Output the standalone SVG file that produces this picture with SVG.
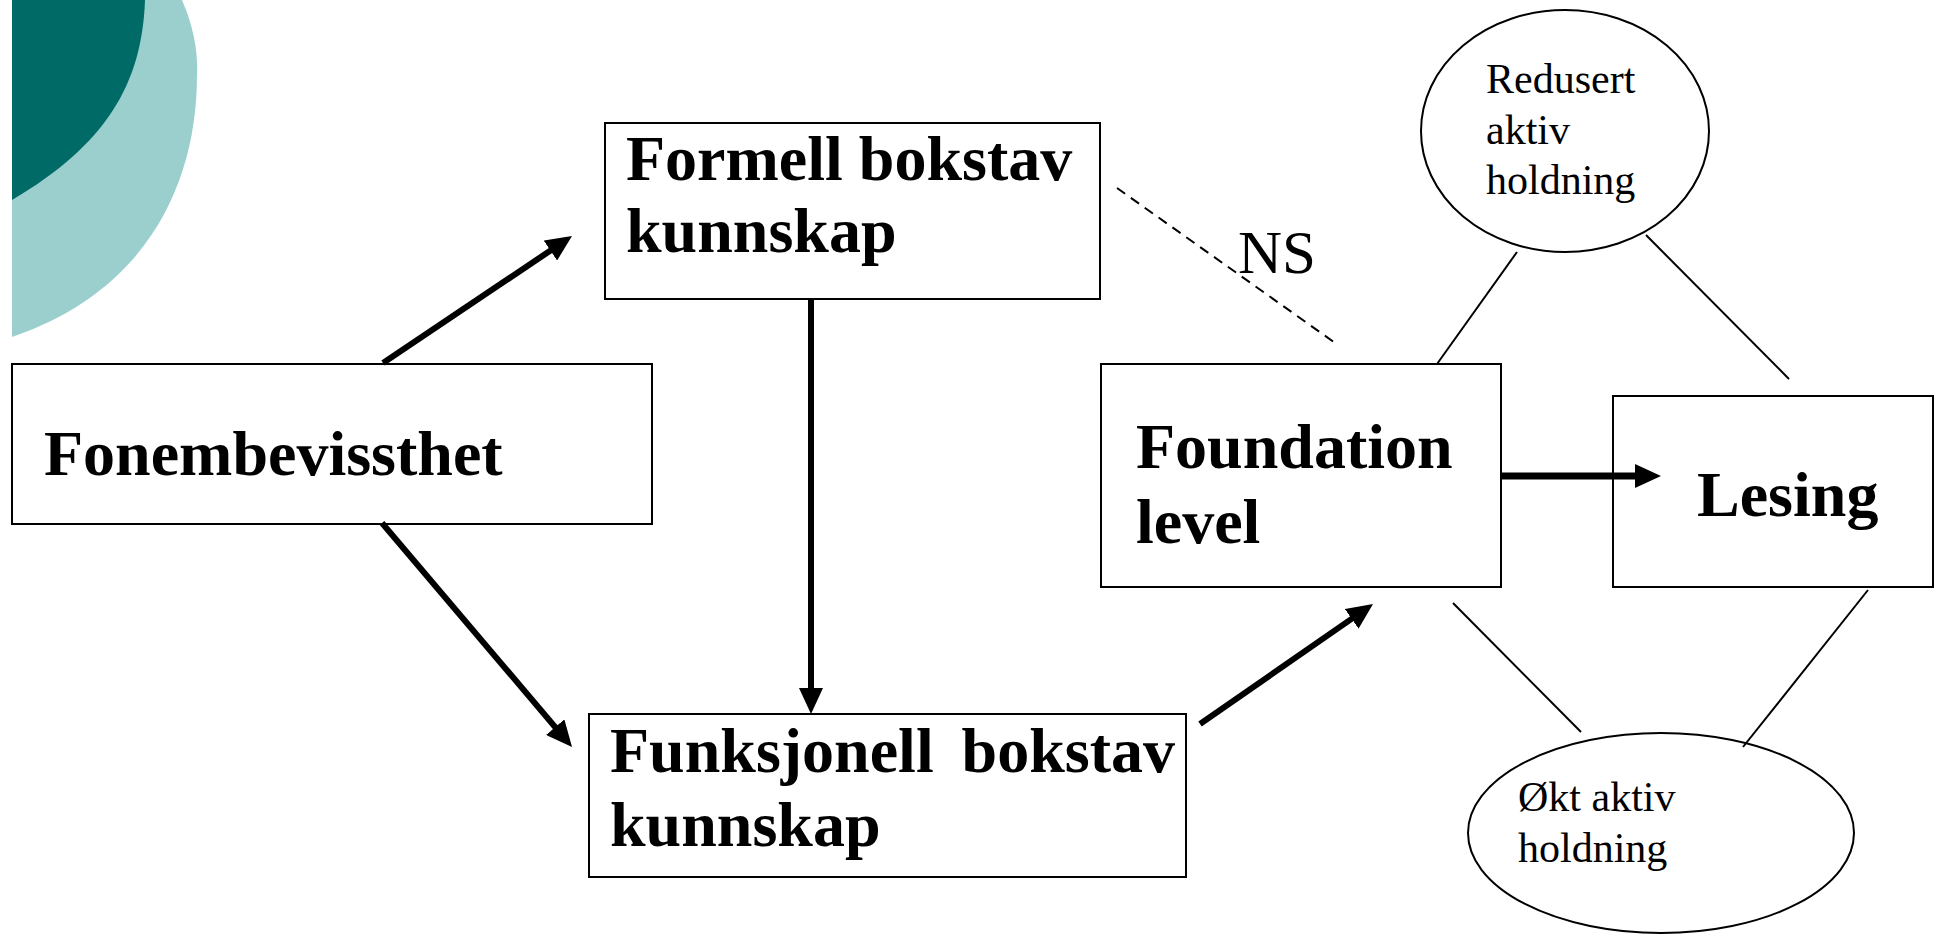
<svg xmlns="http://www.w3.org/2000/svg" width="1936" height="938" viewBox="0 0 1936 938">
<style>
.box{fill:#fff;stroke:#000;stroke-width:2}
.ell{fill:#fff;stroke:#000;stroke-width:2}
.big{font-family:"Liberation Serif","Times New Roman",serif;font-weight:bold;font-size:64px;fill:#000}
.small{font-family:"Liberation Serif","Times New Roman",serif;font-size:42px;fill:#000}
.ns{font-family:"Liberation Serif","Times New Roman",serif;font-size:61px;fill:#000}
.arrow{stroke:#000;stroke-width:6;fill:none;marker-end:url(#head)}
.thin{stroke:#000;stroke-width:2;fill:none}
.dash{stroke:#000;stroke-width:2;fill:none;stroke-dasharray:10 7}
</style>
<defs>
<marker id="head" markerUnits="userSpaceOnUse" markerWidth="26" markerHeight="24" viewBox="0 0 26 24" refX="6" refY="12" orient="auto">
<path d="M0,0 L26,12 L0,24 Z" fill="#000"/>
</marker>
</defs>
<rect width="1936" height="938" fill="#fff"/>
<g id="background">
<path d="M12,0 L182,0 C195,30 198,55 197,75 C197,180 150,290 12,337 Z" fill="#9BCFCE"/>
<path d="M12,0 L145,0 C142,85 105,145 12,200 Z" fill="#006A66"/>
</g>
<g id="node-fonembevissthet">
<rect class="box" x="12" y="364" width="640" height="160"/>
<text class="big" x="44" y="475">Fonembevissthet</text>
</g>
<g id="node-formell">
<rect class="box" x="605" y="123" width="495" height="176"/>
<text class="big" x="626" y="180">Formell bokstav</text>
<text class="big" x="626" y="252">kunnskap</text>
</g>
<g id="node-funksjonell">
<rect class="box" x="589" y="714" width="597" height="163"/>
<text class="big" x="610" y="772">Funksjonell</text>
<text class="big" x="1175" y="772" text-anchor="end">bokstav</text>
<text class="big" x="610" y="846">kunnskap</text>
</g>
<g id="node-foundation">
<rect class="box" x="1101" y="364" width="400" height="223"/>
<text class="big" x="1136" y="468">Foundation</text>
<text class="big" x="1136" y="543">level</text>
</g>
<g id="node-lesing">
<rect class="box" x="1613" y="396" width="320" height="191"/>
<text class="big" x="1697" y="516">Lesing</text>
</g>
<g id="node-redusert">
<ellipse class="ell" cx="1565" cy="131" rx="144" ry="121"/>
<text class="small" x="1486" y="93">Redusert</text>
<text class="small" x="1486" y="144">aktiv</text>
<text class="small" x="1486" y="194">holdning</text>
</g>
<g id="node-okt">
<ellipse class="ell" cx="1661" cy="833" rx="193" ry="100"/>
<text class="small" x="1518" y="811">Økt aktiv</text>
<text class="small" x="1518" y="862">holdning</text>
</g>
<g id="connectors">
<line class="arrow" x1="383" y1="363" x2="555.4" y2="247.2"/>
<line class="arrow" x1="382" y1="523" x2="559.1" y2="731.7"/>
<line class="arrow" x1="811" y1="299" x2="811" y2="694"/>
<line class="arrow" x1="1200" y1="724" x2="1356.6" y2="615.4"/>
<line class="arrow" style="stroke-width:7" x1="1501" y1="476" x2="1641" y2="476"/>
<line class="dash" x1="1117" y1="188" x2="1338" y2="345"/>
<line class="thin" x1="1517" y1="252" x2="1437" y2="364"/>
<line class="thin" x1="1646" y1="235" x2="1789" y2="379"/>
<line class="thin" x1="1453" y1="603" x2="1581" y2="732"/>
<line class="thin" x1="1868" y1="590" x2="1743" y2="747"/>
<text class="ns" x="1238" y="273">NS</text>
</g>
</svg>
